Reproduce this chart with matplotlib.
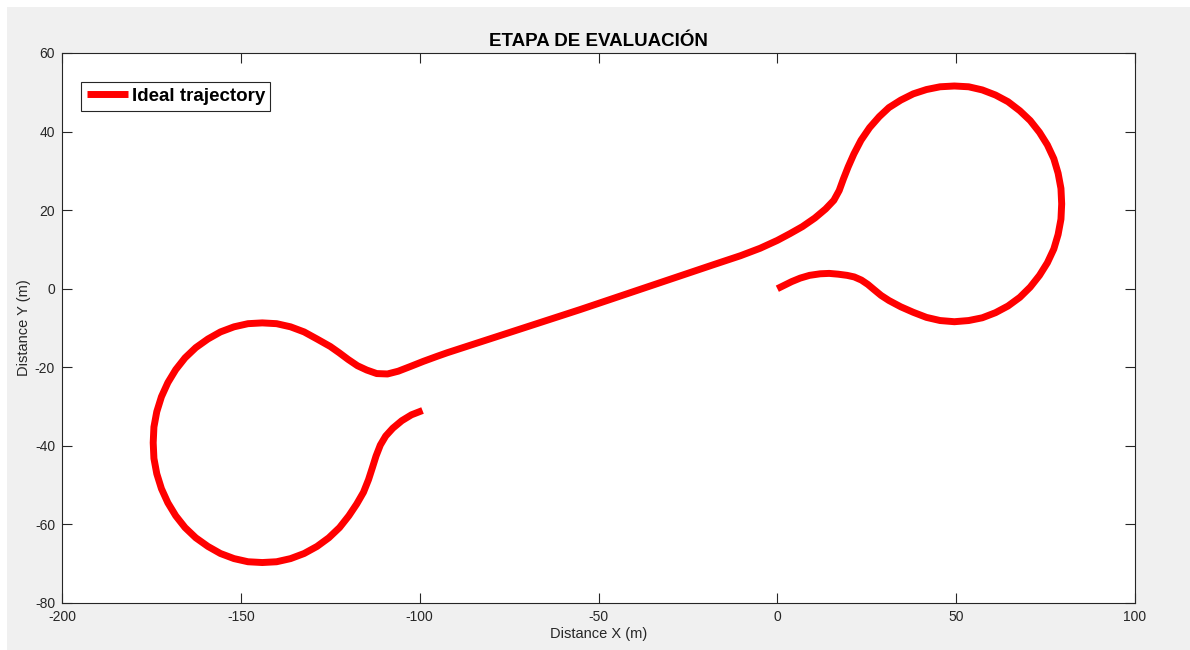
import matplotlib
matplotlib.use("Agg")
import matplotlib.pyplot as plt
from matplotlib.patches import Rectangle

plt.rcParams["font.family"] = ["Liberation Sans", "DejaVu Sans"]
plt.rcParams["axes.unicode_minus"] = False

# Ideal trajectory waypoints (m), from the start at the origin to the end near (-99, -31)
traj_x = [0, 2, 4, 6.4, 9, 12, 14.5, 17, 19.5, 21.5, 23.5, 25.3, 27, 29, 31.2,
          34.5, 38, 41.7, 45.5, 49.5, 53.5, 57.3, 61, 64.5, 67.8, 70.7, 73.3,
          75.5, 77.3, 78.5, 79.3, 79.5, 79.3, 78.5, 77.3, 75.5, 73.3, 70.7,
          67.8, 64.5, 61, 57.3, 53.5, 49.5, 45.5, 41.7, 38, 34.5, 31.2, 28.5,
          25.8, 23.4, 21.4, 19.8, 18.5, 17.3, 15.8, 13.5, 10.5, 7, 3.5, 0,
          -4.8, -10.3, -17.9, -55.1, -92.3, -95.1, -99, -102.6, -106, -109,
          -112, -114.8, -117.4, -120, -122.5, -125, -128.7, -132.3, -136.1,
          -140, -144, -148, -151.9, -155.7, -159.2, -162.6, -165.6, -168.2,
          -170.4, -172.2, -173.5, -174.3, -174.5, -174.3, -173.5, -172.2,
          -170.4, -168.2, -165.6, -162.6, -159.2, -155.7, -151.9, -148, -144,
          -140, -136.1, -132.3, -128.7, -125.4, -122.4, -119.8, -117.6, -115.7,
          -114.3, -113.2, -112.2, -111, -109.5, -107.5, -105, -102.3, -99.2]
traj_y = [0, 0.9, 1.8, 2.7, 3.4, 3.8, 3.9, 3.7, 3.4, 3.0, 2.2, 1.1, -0.2, -1.7,
          -3.0, -4.6, -6.0, -7.3, -8.1, -8.4, -8.1, -7.4, -6.1, -4.4, -2.2, 0.4,
          3.4, 6.6, 10.1, 13.8, 17.7, 21.6, 25.5, 29.4, 33.1, 36.6, 39.8, 42.8,
          45.3, 47.6, 49.3, 50.6, 51.4, 51.6, 51.4, 50.7, 49.6, 48.0, 46.1,
          43.8, 41.0, 37.8, 34.3, 31, 28, 25, 22.5, 20.3, 18, 15.8, 14, 12.3,
          10.3, 8.4, 6.1, -5.3, -16.3, -17.2, -18.5, -19.8, -21.0, -21.7, -21.6,
          -20.7, -19.6, -18.0, -16.3, -14.7, -12.8, -11.0, -9.7, -8.9, -8.7,
          -8.9, -9.7, -11.0, -12.8, -15.0, -17.6, -20.6, -23.9, -27.5, -31.3,
          -35.2, -39.2, -43.2, -47.1, -50.9, -54.5, -57.8, -60.8, -63.4, -65.6,
          -67.4, -68.7, -69.5, -69.7, -69.5, -68.7, -67.4, -65.6, -63.4, -60.8,
          -57.8, -54.8, -51.8, -48.6, -45.5, -42.6, -39.8, -37.5, -35.5, -33.6,
          -32.1, -31.0]

x_ticks = [-200, -150, -100, -50, 0, 50, 100]
y_ticks = [-80, -60, -40, -20, 0, 20, 40, 60]

fig = plt.figure(figsize=(11.9, 6.5), dpi=100, facecolor="white")
# grey figure panel, leaving a thin white strip on the top and left
fig.patches.append(Rectangle((7 / 1190, 0), 1, 1 - 7 / 650, transform=fig.transFigure,
                             facecolor="#f0f0f0", edgecolor="none", zorder=-10))

ax = fig.add_axes([62 / 1190, 47 / 650, 1073 / 1190, 550 / 650])
ax.plot(traj_x, traj_y, color="#ff0000", lw=5, solid_joinstyle="round",
        solid_capstyle="butt", label="Ideal trajectory")

ax.set_xlim(-200, 100)
ax.set_ylim(-80, 60)
ax.set_xticks(x_ticks)
ax.set_yticks(y_ticks)
ax.tick_params(direction="in", length=7, width=0.8, colors="#262626",
               labelsize=10, top=True, right=True, pad=5)
for s in ax.spines.values():
    s.set_color("#262626")
    s.set_linewidth(0.8)

ax.set_title("ETAPA DE EVALUACIÓN", fontsize=13.5, fontweight="bold", pad=5)
ax.set_xlabel("Distance X (m)", fontsize=10.5, color="#262626", labelpad=2)
ax.set_ylabel("Distance Y (m)", fontsize=10.5, color="#262626", labelpad=3)

leg = ax.legend(loc="upper left", bbox_to_anchor=(0.0177, 0.947), borderaxespad=0,
                fancybox=False, edgecolor="#262626", framealpha=1,
                prop={"weight": "bold", "size": 13.5}, handlelength=2.2,
                handletextpad=0.2, borderpad=0.3)
leg.get_frame().set_linewidth(0.8)

fig.savefig("out.png", dpi=100, facecolor=fig.get_facecolor())
